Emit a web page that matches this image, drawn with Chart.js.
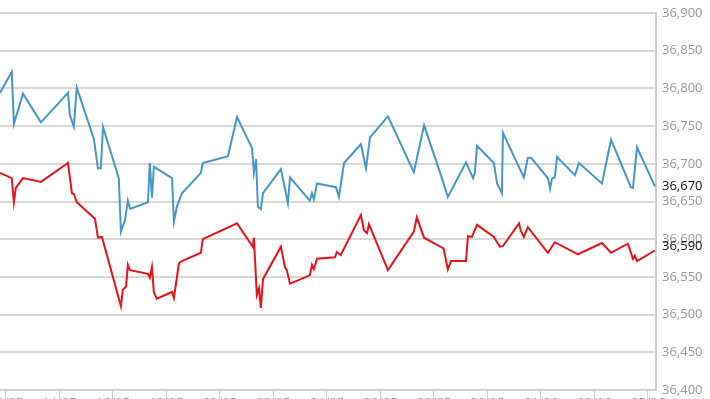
<!DOCTYPE html>
<html>
<head>
<meta charset="utf-8">
<script src="https://cdn.jsdelivr.net/npm/chart.js@4.4.1/dist/chart.umd.min.js"></script>
<style>
  html, body { margin: 0; padding: 0; background: #fff; overflow: hidden; }
</style>
</head>
<body>
<canvas id="myChart" width="710" height="412"></canvas>
<script>
// x = days since 12/05
const tickLabels = ['12/05', '14/05', '16/05', '18/05', '20/05', '22/05', '24/05', '26/05', '28/05', '30/05', '01/06', '03/06', '05/06'];

const blueDays = [-0.22, 0.22, 0.30, 0.64, 1.31, 2.32, 2.39, 2.54, 2.65, 3.29, 3.44, 3.55, 3.63, 4.22, 4.30, 4.45, 4.56, 4.64,
    5.31, 5.38, 5.46, 5.53, 6.21, 6.28, 6.39, 6.58, 7.29, 7.36, 8.30, 8.64, 9.20, 9.27, 9.35, 9.42, 9.53, 9.61,
    10.28, 10.54, 10.62, 11.36, 11.44, 11.51, 11.63, 12.34, 12.45, 12.64, 13.27, 13.46, 13.61, 14.28, 15.25, 15.63,
    16.26, 16.52, 17.20, 17.46, 17.53, 17.61, 18.24, 18.36, 18.54, 18.58, 19.36, 19.51, 19.63, 20.26, 20.34, 20.41,
    20.52, 20.60, 21.27, 21.42, 22.28, 22.62, 23.36, 23.44, 23.59, 24.26];
const blueValues = [36794, 36822, 36753, 36793, 36755, 36794, 36765, 36749, 36801, 36733, 36694, 36694, 36749, 36681, 36610, 36625, 36651, 36640,
    36649, 36701, 36655, 36696, 36681, 36623, 36643, 36661, 36688, 36701, 36710, 36762, 36721, 36688, 36706, 36643, 36640, 36661,
    36693, 36648, 36682, 36651, 36661, 36653, 36674, 36669, 36656, 36701, 36726, 36694, 36735, 36763, 36689, 36751,
    36685, 36656, 36702, 36681, 36688, 36724, 36701, 36674, 36661, 36741, 36682, 36708, 36708, 36681, 36667, 36680,
    36682, 36709, 36685, 36701, 36674, 36732, 36669, 36668, 36722, 36670];

const redDays = [-0.22, 0.22, 0.30, 0.37, 0.64, 1.31, 2.32, 2.47, 2.54, 2.65, 3.33, 3.44, 3.59, 4.30, 4.37, 4.49, 4.56, 4.64,
    5.31, 5.38, 5.46, 5.53, 5.64, 6.21, 6.28, 6.47, 6.58, 7.29, 7.36, 8.64, 9.23, 9.27, 9.38, 9.46, 9.53, 9.61,
    10.28, 10.43, 10.50, 10.62, 11.36, 11.44, 11.51, 11.63, 12.30, 12.37, 12.52, 13.27, 13.38, 13.50, 13.57, 14.28,
    15.25, 15.36, 15.63, 16.34, 16.37, 16.52, 16.64, 17.20, 17.27, 17.42, 17.61, 18.24, 18.36, 18.47, 18.58,
    19.18, 19.25, 19.36, 19.51, 20.26, 20.52, 21.38, 22.28, 22.62, 23.25, 23.44, 23.51, 23.59, 24.26];
const redValues = [36688, 36681, 36649, 36668, 36681, 36676, 36701, 36661, 36660, 36649, 36627, 36602, 36603, 36511, 36533, 36537, 36566, 36559,
    36554, 36549, 36563, 36530, 36521, 36530, 36522, 36568, 36571, 36582, 36600, 36621, 36590, 36602, 36526, 36535, 36509, 36547,
    36590, 36563, 36559, 36541, 36552, 36566, 36560, 36574, 36576, 36583, 36579, 36632, 36612, 36608, 36620, 36559,
    36610, 36629, 36602, 36588, 36586, 36560, 36571, 36571, 36604, 36603, 36619, 36603, 36596, 36590, 36591,
    36621, 36611, 36603, 36616, 36582, 36596, 36580, 36595, 36582, 36594, 36574, 36578, 36571, 36585];

const lastValues = [36670, 36590];

const lastValueLabels = {
    id: 'lastValueLabels',
    afterDraw(chart) {
        const ctx = chart.ctx;
        const y = chart.scales.y;
        ctx.save();
        ctx.font = '13px "Open Sans"';
        ctx.fillStyle = '#111';
        ctx.textBaseline = 'middle';
        ctx.textAlign = 'left';
        lastValues.forEach(v => {
            ctx.fillText(v.toLocaleString('en-US'), chart.chartArea.right + 6, y.getPixelForValue(v));
        });
        ctx.restore();
    }
};

const ctx = document.getElementById('myChart').getContext('2d');
const myChart = new Chart(ctx, {
    type: 'line',
    data: {
        datasets: [{
            data: blueDays.map((d, i) => ({ x: d, y: blueValues[i] })),
            borderColor: '#4797c9',
            borderWidth: 2,
            pointRadius: 0,
            tension: 0
        }, {
            data: redDays.map((d, i) => ({ x: d, y: redValues[i] })),
            borderColor: '#e8131b',
            borderWidth: 2,
            pointRadius: 0,
            tension: 0
        }]
    },
    options: {
        responsive: false,
        animation: false,
        layout: { padding: { top: 13, left: 0, right: 0, bottom: 0 } },
        plugins: { legend: { display: false }, tooltip: { enabled: false } },
        scales: {
            x: {
                type: 'linear',
                min: -0.22,
                max: 24.3,
                afterBuildTicks: scale => {
                    scale.ticks = tickLabels.map((t, i) => ({ value: i * 2 }));
                },
                afterFit: scale => {
                    scale.height = 22;
                    scale.paddingLeft = 0;
                    scale.paddingRight = 0;
                },
                grid: { drawOnChartArea: false, tickLength: 10, color: '#cfcfcf', lineWidth: 1 },
                border: { color: '#cfcfcf', width: 2 },
                ticks: {
                    padding: -5,
                    maxRotation: 0,
                    autoSkip: false,
                    color: '#999',
                    font: { family: 'Open Sans', size: 13 },
                    callback: v => tickLabels[Math.round(v / 2)]
                }
            },
            y: {
                position: 'right',
                min: 36400,
                max: 36900,
                afterFit: scale => {
                    scale.width = 54;
                    scale.paddingTop = 0;
                    scale.paddingBottom = 0;
                },
                grid: { drawTicks: false, color: '#d9d9d9', lineWidth: 2 },
                border: { color: '#cfcfcf', width: 2 },
                ticks: {
                    stepSize: 50,
                    padding: 6,
                    color: '#999',
                    font: { family: 'Open Sans', size: 13 },
                    callback: v => v.toLocaleString('en-US')
                }
            }
        }
    },
    plugins: [lastValueLabels]
});
</script>
</body>
</html>
